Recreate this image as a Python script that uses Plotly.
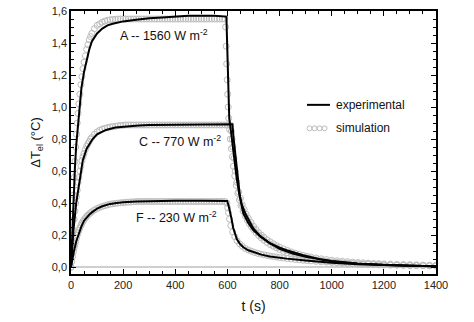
import plotly.graph_objects as go

# ---------------- data ----------------
# Experimental curves
t_exp_A = [0, 5, 10, 15, 20, 30, 40, 50, 60, 70, 80, 100, 120, 140, 160, 200, 250, 300, 350, 400,
           450, 500, 550, 596, 601, 607, 615, 625, 635, 645, 655, 670, 683, 700, 725, 760, 800, 850,
           900, 950, 1000, 1100, 1200, 1300, 1400]
v_exp_A = [0, 0.25, 0.45, 0.62, 0.76, 0.97, 1.12, 1.22, 1.30, 1.36, 1.41, 1.46, 1.49, 1.51, 1.52,
           1.535, 1.545, 1.555, 1.56, 1.565, 1.57, 1.57, 1.57, 1.565, 1.25, 0.93, 0.83, 0.68, 0.56,
           0.46, 0.39, 0.33, 0.29, 0.24, 0.195, 0.152, 0.114, 0.085, 0.064, 0.048, 0.036, 0.021,
           0.013, 0.008, 0.005]

t_exp_C = [0, 5, 10, 20, 30, 45, 60, 83, 100, 134, 170, 211, 260, 300, 400, 500, 600, 619, 624,
           630, 638, 648, 655, 661, 680, 699, 725, 763, 800, 827, 891, 955, 1000, 1100, 1200, 1300,
           1400]
v_exp_C = [0, 0.13, 0.24, 0.40, 0.52, 0.665, 0.74, 0.80, 0.83, 0.857, 0.872, 0.88, 0.885, 0.888,
           0.89, 0.893, 0.895, 0.893, 0.80, 0.70, 0.56, 0.44, 0.38, 0.335, 0.275, 0.232, 0.193,
           0.149, 0.122, 0.106, 0.075, 0.049, 0.038, 0.023, 0.014, 0.009, 0.006]

t_exp_F = [0, 5, 10, 20, 30, 40, 50, 60, 70, 80, 100, 120, 150, 175, 200, 250, 300, 400, 500, 599,
           605, 610, 616, 622, 629, 636, 648, 661, 680, 699, 730, 763, 800, 827, 900, 955, 1000,
           1100, 1200, 1300, 1400]
v_exp_F = [0, 0.05, 0.09, 0.16, 0.215, 0.255, 0.29, 0.31, 0.328, 0.342, 0.365, 0.38, 0.395, 0.40,
           0.405, 0.41, 0.413, 0.415, 0.415, 0.413, 0.38, 0.348, 0.30, 0.246, 0.205, 0.175, 0.145,
           0.124, 0.105, 0.093, 0.078, 0.067, 0.058, 0.053, 0.041, 0.032, 0.027, 0.018, 0.012,
           0.008, 0.005]

# Simulation curves (heating part, shared time grid)
t_sim_rise = [0, 3, 6, 9, 12, 15, 18, 21, 24, 27, 30, 34, 38, 42, 46, 50, 55, 60, 65, 70,
              75, 80, 90, 100, 110, 120, 130, 140, 150, 160, 170, 180, 190, 200,
              210, 220, 230, 240, 250, 260, 270, 280, 290, 300, 310, 320, 330, 340, 350, 360,
              370, 380, 390, 400, 410, 420, 430, 440, 450, 460, 470, 480, 490, 500, 510, 520,
              530, 540, 550, 560, 570, 580, 590]
v_sim_A_rise = [0, 0.17, 0.32, 0.45, 0.56, 0.66, 0.75, 0.83, 0.90, 0.96, 1.02, 1.08, 1.14, 1.19,
                1.24, 1.28, 1.32, 1.36, 1.39, 1.42, 1.44, 1.46, 1.49, 1.51, 1.52, 1.53, 1.537,
                1.542, 1.545, 1.547, 1.548, 1.55, 1.55, 1.55,
                1.55, 1.55, 1.55, 1.55, 1.55, 1.55, 1.55, 1.55, 1.55, 1.55, 1.55, 1.55, 1.55,
                1.55, 1.55, 1.55, 1.55, 1.55, 1.55, 1.55, 1.55, 1.55, 1.55, 1.55, 1.55, 1.55,
                1.55, 1.55, 1.55, 1.55, 1.55, 1.55, 1.55, 1.55, 1.55, 1.55, 1.55, 1.55, 1.55]
v_sim_C_rise = [0, 0.08, 0.16, 0.23, 0.30, 0.35, 0.40, 0.44, 0.48, 0.53, 0.56, 0.60, 0.63, 0.665,
                0.69, 0.71, 0.735, 0.755, 0.77, 0.785, 0.80, 0.81, 0.83, 0.845, 0.855, 0.862,
                0.867, 0.872, 0.875, 0.878, 0.88, 0.883, 0.885, 0.886,
                0.888, 0.888, 0.888, 0.888, 0.888, 0.888, 0.888, 0.888, 0.888, 0.888, 0.888,
                0.888, 0.888, 0.888, 0.888, 0.888, 0.888, 0.888, 0.888, 0.888, 0.888, 0.888,
                0.888, 0.888, 0.888, 0.888, 0.888, 0.888, 0.888, 0.888, 0.888, 0.888, 0.888,
                0.888, 0.888, 0.888, 0.888, 0.888, 0.888]
v_sim_F_rise = [0, 0.035, 0.065, 0.095, 0.12, 0.14, 0.16, 0.18, 0.20, 0.215, 0.23, 0.245, 0.26,
                0.274, 0.286, 0.296, 0.307, 0.317, 0.325, 0.333, 0.34, 0.346, 0.357, 0.366, 0.373,
                0.379, 0.384, 0.389, 0.393, 0.396, 0.398, 0.40, 0.402, 0.403,
                0.405, 0.406, 0.407, 0.408, 0.409, 0.41, 0.41, 0.41, 0.41, 0.41, 0.41, 0.41,
                0.41, 0.41, 0.41, 0.41, 0.41, 0.41, 0.41, 0.41, 0.41, 0.41, 0.41, 0.41, 0.41,
                0.41, 0.41, 0.41, 0.41, 0.41, 0.41, 0.41, 0.41, 0.41, 0.41, 0.41, 0.41, 0.41,
                0.41]

# Simulation curves (cooling part)
t_sim_A_fall = [593, 595, 597, 599, 601, 603, 605, 608, 611, 615, 619, 623, 628, 634, 640, 646,
                652, 660, 668, 676, 684, 692, 700, 710, 720, 730, 740, 752, 764, 776, 788, 800,
                815, 830, 845, 860, 875, 890, 905, 920, 940, 960, 980, 1000, 1020, 1040, 1060,
                1080, 1100, 1120, 1140, 1160, 1180, 1200, 1225, 1250, 1275, 1300, 1325, 1350,
                1375, 1400]
v_sim_A_fall = [1.50, 1.38, 1.27, 1.17, 1.08, 1.00, 0.93, 0.86, 0.80, 0.74, 0.69, 0.63, 0.57,
                0.51, 0.46, 0.42, 0.385, 0.35, 0.32, 0.295, 0.272, 0.252, 0.235, 0.215, 0.197,
                0.182, 0.168, 0.154, 0.141, 0.13, 0.12, 0.11, 0.099, 0.09, 0.082, 0.074,
                0.068, 0.062, 0.057, 0.052, 0.046, 0.041, 0.037, 0.033, 0.030, 0.027, 0.025,
                0.023, 0.021, 0.019, 0.018, 0.016, 0.015, 0.014, 0.013, 0.012, 0.011, 0.010,
                0.010, 0.009, 0.009, 0.008]

t_sim_C_fall = [600, 610, 612, 615, 618, 621, 625, 630, 636, 643, 650, 657, 664, 672, 680, 690,
                700, 710, 720, 730, 740, 752, 764, 776, 788, 800, 815, 830, 845, 860, 875, 890,
                905, 920, 940, 960, 980, 1000, 1020, 1040, 1060, 1080, 1100, 1120, 1140, 1160,
                1180, 1200, 1225, 1250, 1275, 1300, 1325, 1350, 1375, 1400]
v_sim_C_fall = [0.888, 0.888, 0.885, 0.85, 0.80, 0.75, 0.68, 0.60, 0.53, 0.47, 0.43, 0.39, 0.36,
                0.33, 0.305, 0.28, 0.255, 0.235, 0.215, 0.2, 0.186, 0.171, 0.158, 0.146, 0.135,
                0.125, 0.114, 0.104, 0.095, 0.087, 0.08, 0.074, 0.068, 0.063, 0.057, 0.052,
                0.047, 0.043, 0.040, 0.037, 0.034, 0.031, 0.029, 0.027, 0.025, 0.023, 0.022,
                0.020, 0.019, 0.017, 0.016, 0.015, 0.014, 0.013, 0.012, 0.012]

t_sim_F_fall = [598, 601, 604, 608, 613, 620, 628, 637, 647, 657, 668, 680, 692, 704, 716, 728,
                740, 752, 764, 776, 788, 800, 815, 830, 845, 860, 875, 890, 905, 920, 940, 960,
                980, 1000, 1020, 1040, 1060, 1080, 1100, 1120, 1140, 1160, 1180, 1200, 1225, 1250,
                1275, 1300, 1325, 1350, 1375, 1400]
v_sim_F_fall = [0.40, 0.37, 0.34, 0.30, 0.26, 0.22, 0.19, 0.165, 0.145, 0.13, 0.117, 0.107, 0.099,
                0.092, 0.086, 0.081, 0.077, 0.073, 0.069, 0.066, 0.063, 0.06, 0.057, 0.054, 0.051,
                0.048, 0.046, 0.043, 0.041, 0.039, 0.036, 0.033, 0.031, 0.029, 0.027, 0.025,
                0.023, 0.021, 0.02, 0.019, 0.018, 0.017, 0.016, 0.015, 0.014, 0.013, 0.012, 0.011,
                0.01, 0.009, 0.008, 0.008]

labels = ["A -- 1560 W m<sup>-2</sup>", "C -- 770 W m<sup>-2</sup>", "F -- 230 W m<sup>-2</sup>"]
label_pos_t = [358, 418, 405]
label_pos_v = [1.45, 0.79, 0.31]

legend_labels = ["experimental", "simulation"]

x_ticks = [0, 200, 400, 600, 800, 1000, 1200, 1400]
y_ticks = [0.0, 0.2, 0.4, 0.6, 0.8, 1.0, 1.2, 1.4, 1.6]

# ---------------- figure ----------------
SIM_COLOR = "#bcbcbc"
FONT = "Liberation Sans, Arial, sans-serif"

fig = go.Figure()

sims = [
    (t_sim_rise + t_sim_A_fall, v_sim_A_rise + v_sim_A_fall),
    (t_sim_rise + t_sim_C_fall, v_sim_C_rise + v_sim_C_fall),
    (t_sim_rise + t_sim_F_fall, v_sim_F_rise + v_sim_F_fall),
]
for ts, vs in sims:
    fig.add_trace(go.Scatter(
        x=ts, y=vs, mode="markers", showlegend=False,
        marker=dict(symbol="circle-open", size=6, color=SIM_COLOR,
                    line=dict(width=1, color=SIM_COLOR)),
    ))

exps = [(t_exp_A, v_exp_A), (t_exp_C, v_exp_C), (t_exp_F, v_exp_F)]
for ts, vs in exps:
    fig.add_trace(go.Scatter(
        x=ts, y=vs, mode="lines", showlegend=False,
        line=dict(color="black", width=2),
    ))

for txt, tx, ty in zip(labels, label_pos_t, label_pos_v):
    fig.add_annotation(x=tx, y=ty, text=txt, showarrow=False,
                       font=dict(size=12.5, color="#111", family=FONT))

# Custom legend (paper coordinates)
PX_W, PX_H = 365.0, 269.0
def px(xp):
    return (xp - 71) / PX_W
def py(yp):
    return (274 - yp) / PX_H

fig.add_shape(type="line", xref="paper", yref="paper",
              x0=px(307), x1=px(330), y0=py(101), y1=py(101),
              line=dict(color="black", width=2))
for cx in [309.5, 314.5, 319.5, 324.5]:
    fig.add_shape(type="circle", xref="paper", yref="paper",
                  x0=px(cx - 2.5), x1=px(cx + 2.5), y0=py(125 + 2.5), y1=py(125 - 2.5),
                  line=dict(color=SIM_COLOR, width=1))
for lab, yy in zip(legend_labels, [101, 125]):
    fig.add_annotation(xref="paper", yref="paper", x=px(334), y=py(yy), text=lab,
                       showarrow=False, xanchor="left", yanchor="middle",
                       font=dict(size=12, color="#111", family=FONT))

axis_common = dict(
    showline=True, linecolor="black", linewidth=1.5, mirror="ticks",
    ticks="inside", ticklen=5, tickwidth=1.3, tickcolor="black",
    showgrid=False,
    tickfont=dict(size=11, color="#222", family=FONT),
)

fig.update_xaxes(range=[0, 1400], tickvals=x_ticks, zeroline=False,
                 minor=dict(dtick=50, ticks="inside", ticklen=3, tickcolor="black", tickwidth=1),
                 title=dict(text="t (s)", font=dict(size=14, color="#111", family=FONT), standoff=11),
                 **axis_common)
fig.update_yaxes(range=[-0.043, 1.6], tickvals=y_ticks, tickformat=".1f",
                 zeroline=True, zerolinecolor="#cfcfcf", zerolinewidth=2,
                 minor=dict(dtick=0.05, ticks="inside", ticklen=3, tickcolor="black", tickwidth=1),
                 title=dict(text="ΔT<sub>el</sub> (°C)", font=dict(size=13, color="#111", family=FONT), standoff=8),
                 **axis_common)

fig.update_layout(
    width=474, height=322,
    margin=dict(l=71, r=38, t=5, b=48),
    plot_bgcolor="white", paper_bgcolor="white",
    separators=",.",
    font=dict(family=FONT),
    showlegend=False,
)

fig.write_html("out.html")
